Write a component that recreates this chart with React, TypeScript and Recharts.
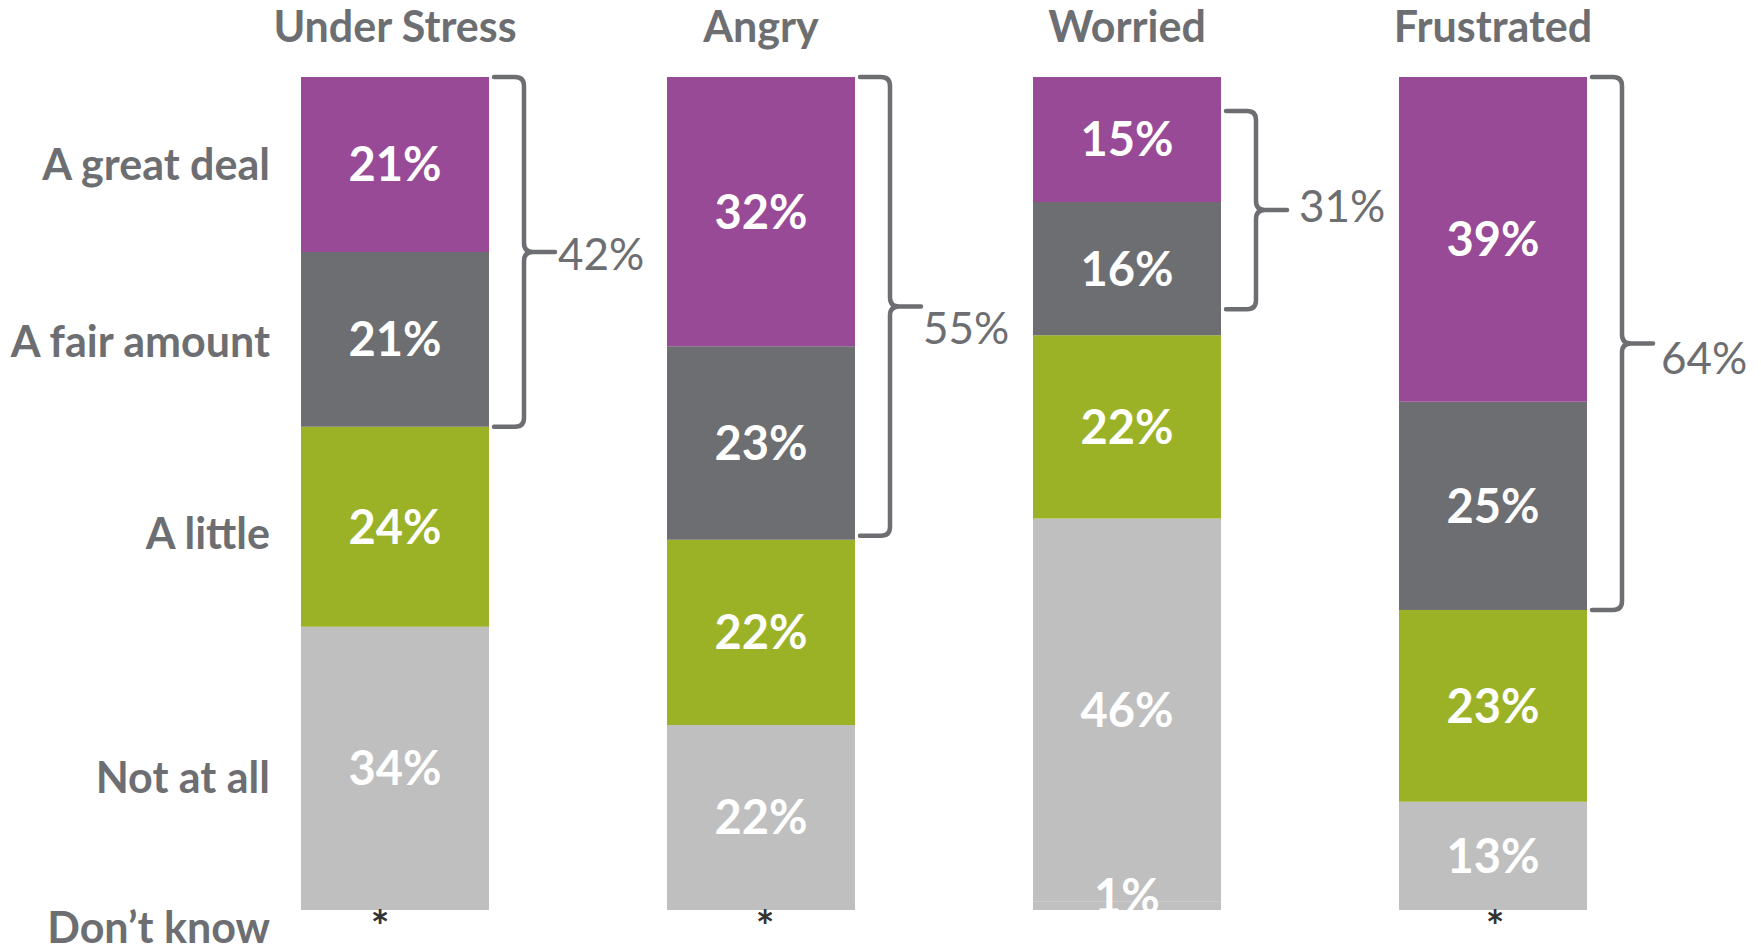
import React from 'react';
import { BarChart, Bar, XAxis, YAxis, LabelList } from 'recharts';

// ---- data ----
const categories = ['Under Stress', 'Angry', 'Worried', 'Frustrated'];
const greatDeal = [21, 32, 15, 39];
const fairAmount = [21, 23, 16, 25];
const aLittle = [24, 22, 22, 23];
const notAtAll = [34, 22, 46, 13];
const dontKnow = [0, 0, 1, 0]; // 0 is shown as "*"
const netTotals = [42, 55, 31, 64]; // great deal + fair amount
const rowLabels = ['A great deal', 'A fair amount', 'A little', 'Not at all', 'Don\u2019t know'];

// ---- styles ----
const FONT = 'Lato, "Open Sans", sans-serif';
const TEXT_GRAY = '#6d6e71';
const COLORS = {
  greatDeal: '#984a97',
  fairAmount: '#6d6e71',
  aLittle: '#9bb227',
  notAtAll: '#bfbfbf',
  dontKnow: '#c0c0c0',
};
const bracketInset = [[0, 0], [0, 4], [34, 26], [0, 0]];
const bracketLabelDy = [2, 22, -4, 15];
const bracketLabelDx = [-3, -4, 6, 2];
const rowLabelDy = [0, 2, 7, 9, 18];
const asteriskDx = [-15, 4, 0, 2];

const data = categories.map((name, i) => ({
  name,
  greatDeal: greatDeal[i],
  fairAmount: fairAmount[i],
  aLittle: aLittle[i],
  notAtAll: notAtAll[i],
  dontKnow: dontKnow[i],
}));

const box = (p: any) => {
  const vb = p.viewBox || {};
  const x = Number(vb.x ?? p.x ?? 0);
  const y0 = Number(vb.y ?? p.y ?? 0);
  const w = Number(vb.width ?? p.width ?? 0);
  const h0 = Number(vb.height ?? p.height ?? 0);
  const y = h0 < 0 ? y0 + h0 : y0;
  return { x, y, width: w, height: Math.abs(h0) };
};

const valueText = (cx: number, cy: number, v: number) => (
  <text x={cx} y={cy} dy="0.36em" textAnchor="middle" fontSize={47} fontWeight={700} fill="#ffffff" fontFamily={FONT}>
    {v}%
  </text>
);

const valueLabel = (vals: number[]) => (p: any) => {
  const { x, y, width, height } = box(p);
  const v = vals[p.index];
  return valueText(x + width / 2, y + height / 2, v);
};

const rowText = (x: number, cy: number, row: number) => (
  <text x={x - 31} y={cy} dy="0.36em" textAnchor="end" fontSize={43} fontWeight={700} fill={TEXT_GRAY} fontFamily={FONT}>
    {rowLabels[row]}
  </text>
);

const rowLabel = (row: number) => (p: any) => {
  if (p.index !== 0) return null;
  const { x, y, height } = box(p);
  return rowText(x, y + height / 2 + rowLabelDy[row], row);
};

// "Not at all" segment also carries the "Don't know" layer drawn below/inside the bar bottom
const notAtAllLabel = (p: any) => {
  const { x, y, width, height } = box(p);
  const i = p.index;
  const cx = x + width / 2;
  const unit = height / notAtAll[i];
  const bottom = y + height;
  const dkHeight = dontKnow[i] * unit;
  const parts: React.ReactNode[] = [valueText(cx, y + height / 2, notAtAll[i])];
  if (dontKnow[i] === 0) {
    parts.push(
      <text x={cx + asteriskDx[i]} y={bottom + 32} textAnchor="middle" fontSize={44} fontWeight={700} fill="#333333" fontFamily={FONT}>
        *
      </text>
    );
  } else {
    parts.push(valueText(cx, bottom + dkHeight / 2 - 10, dontKnow[i]));
  }
  if (i === 0) {
    parts.push(rowText(x, y + height / 2 + rowLabelDy[3], 3));
    parts.push(rowText(x, bottom + dkHeight + rowLabelDy[4], 4));
  }
  return <g>{parts.map((n, k) => <React.Fragment key={k}>{n}</React.Fragment>)}</g>;
};

const bracket = (p: any) => {
  const { x, y, width, height } = box(p);
  const i = p.index;
  const unit = height / fairAmount[i];
  const top = y - greatDeal[i] * unit + bracketInset[i][0];
  const bottom = y + height - bracketInset[i][1];
  const mid = (top + bottom) / 2;
  const x0 = x + width + 5;
  const xv = x + width + 35;
  const xt = x + width + 66;
  const r = 9;
  const d = `M${x0},${top} H${xv - r} Q${xv},${top} ${xv},${top + r} V${mid - r} Q${xv},${mid} ${xv + r},${mid} H${xt} M${xv + r},${mid} Q${xv},${mid} ${xv},${mid + r} V${bottom - r} Q${xv},${bottom} ${xv - r},${bottom} H${x0}`;
  return (
    <g>
      <path d={d} fill="none" stroke={TEXT_GRAY} strokeWidth={4.5} strokeLinecap="round" strokeLinejoin="round" />
      <text x={xt + 6 + bracketLabelDx[i]} y={mid + bracketLabelDy[i]} dy="0.36em" textAnchor="start" fontSize={44} fontWeight={400} fill={TEXT_GRAY} fontFamily={FONT}>
        {netTotals[i]}%
      </text>
    </g>
  );
};

// title of each column, placed above the top ("A great deal") segment
const titleLabel = (p: any) => {
  const { x, y, width } = box(p);
  return (
    <text x={x + width / 2} y={y - 35} textAnchor="middle" fontSize={43} fontWeight={700} fill={TEXT_GRAY} fontFamily={FONT}>
      {categories[p.index]}
    </text>
  );
};

export default function App() {
  return (
    <div style={{ position: 'absolute', left: 0, top: 0, width: 1761, height: 952, background: '#ffffff' }}>
      <BarChart
        width={1761}
        height={952}
        data={data}
        stackOffset="expand"
        margin={{ top: 77, right: 85, bottom: 42, left: 212 }}
        barSize={188}
      >
        <XAxis dataKey="name" hide />
        <YAxis hide domain={[0, 1]} />
        <Bar dataKey="dontKnow" stackId="s" fill={COLORS.dontKnow} isAnimationActive={false} />
        <Bar dataKey="notAtAll" stackId="s" fill={COLORS.notAtAll} isAnimationActive={false}>
          <LabelList dataKey="notAtAll" content={notAtAllLabel} />
        </Bar>
        <Bar dataKey="aLittle" stackId="s" fill={COLORS.aLittle} isAnimationActive={false}>
          <LabelList dataKey="aLittle" content={valueLabel(aLittle)} />
          <LabelList dataKey="aLittle" content={rowLabel(2)} />
        </Bar>
        <Bar dataKey="fairAmount" stackId="s" fill={COLORS.fairAmount} isAnimationActive={false}>
          <LabelList dataKey="fairAmount" content={valueLabel(fairAmount)} />
          <LabelList dataKey="fairAmount" content={rowLabel(1)} />
          <LabelList dataKey="fairAmount" content={bracket} />
        </Bar>
        <Bar dataKey="greatDeal" stackId="s" fill={COLORS.greatDeal} isAnimationActive={false}>
          <LabelList dataKey="greatDeal" content={valueLabel(greatDeal)} />
          <LabelList dataKey="greatDeal" content={rowLabel(0)} />
          <LabelList dataKey="greatDeal" content={titleLabel} />
        </Bar>
      </BarChart>
    </div>
  );
}
